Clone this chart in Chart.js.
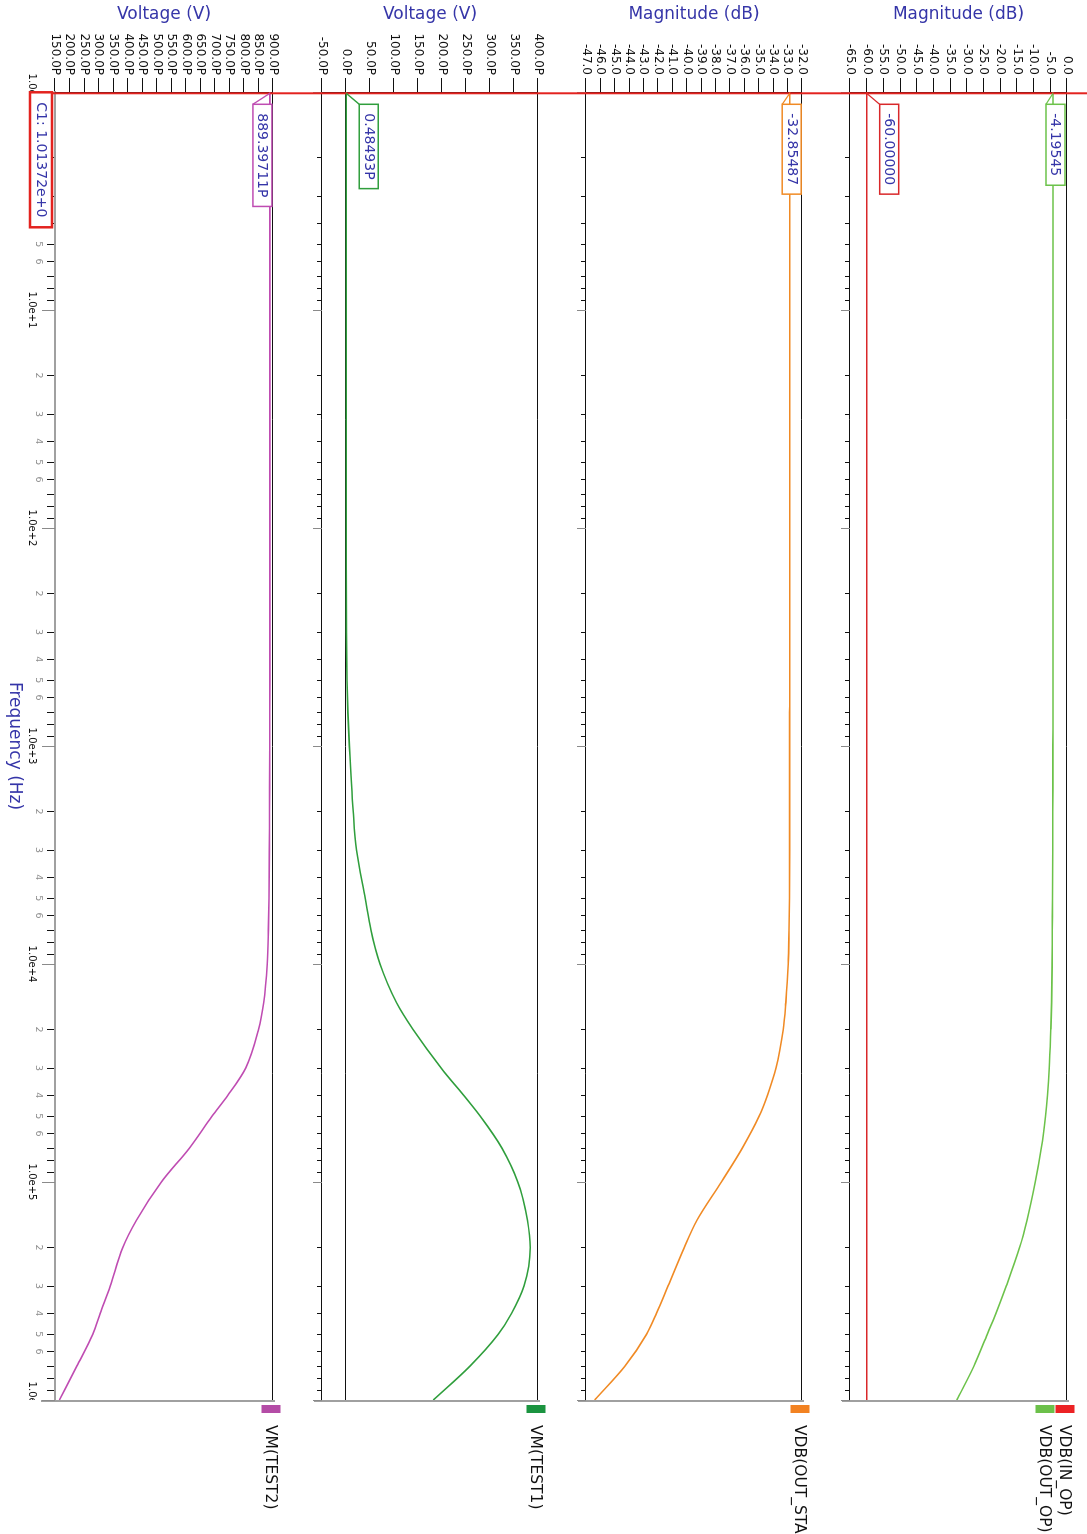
<!DOCTYPE html>
<html lang="en">
<head>
    <meta charset="UTF-8">
    <title>AC sweep - VDB / VM</title>
    <script src="https://cdn.jsdelivr.net/npm/chart.js"></script>
    <style>
        body {
            margin: 0;
            background: #fff;
            width: 1087px;
            height: 1534px;
            overflow: hidden;
            position: relative;
        }
        /* the plot is drawn landscape and turned a quarter turn clockwise */
        #sheet {
            position: absolute;
            left: 0;
            top: 0;
            width: 1534px;
            height: 1087px;
            transform-origin: 0 0;
            transform: translateX(1087px) rotate(90deg);
            background: #fff;
        }
        #sheet canvas {
            position: absolute;
            left: 0;
        }
    </style>
</head>
<body>
<div id="sheet">
    <canvas id="stripDb" width="1534" height="261" style="top:0"></canvas>
    <canvas id="stripStage" width="1534" height="264" style="top:261px"></canvas>
    <canvas id="stripTest1" width="1534" height="264" style="top:525px"></canvas>
    <canvas id="stripTest2" width="1534" height="298" style="top:789px"></canvas>
</div>

<script>
    // sweep points (Hz)
    const freqs = [1, 10, 100, 300, 500, 700, 1e3, 2e3, 3e3, 5e3, 7e3, 1e4, 1.5e4, 2e4, 3e4, 4e4, 5e4, 7e4, 1e5, 1.5e5, 2e5, 3e5, 4e5, 5e5, 7e5, 1e6];

    // series values
    const vdbInOp = [-60, -60, -60, -60, -60, -60, -60, -60, -60, -60, -60, -60, -60, -60, -60, -60, -60, -60, -60, -60, -60, -60, -60, -60, -60, -60];
    const vdbOutOp = [-4.19545, -4.195, -4.196, -4.2, -4.2, -4.21, -4.22, -4.25, -4.28, -4.33, -4.4, -4.45, -4.6, -4.85, -5.3, -5.85, -6.45, -7.7, -9.5, -12.0, -14.2, -18.2, -21.3, -23.9, -27.9, -33.0];
    const vdbOutStage = [-32.85487, -32.855, -32.855, -32.855, -32.855, -32.856, -32.857, -32.86, -32.86, -32.87, -32.9, -32.95, -33.12, -33.3, -33.8, -34.4, -34.98, -36.15, -37.6, -39.3, -40.18, -41.3, -42.1, -42.8, -44.3, -46.4];
    const vmTest1 = [0.48493, 0.485, 0.5, 0.8, 2, 4, 7, 15, 22, 40, 52, 71, 105, 140, 198, 245, 280, 325, 358, 378, 384, 371, 345, 317, 258, 182];
    const vmTest2 = [889.39711, 889.4, 889.3, 889.2, 889.1, 889, 888.8, 888, 887.5, 886, 884, 880, 868, 850, 806, 745, 690, 612, 516, 430, 383, 340, 306, 280, 225, 165];

    // axis ticks
    const dbTicksIn = [-65, -60, -55, -50, -45, -40, -35, -30, -25, -20, -15, -10, -5, 0];
    const dbTicksStage = [-47, -46, -45, -44, -43, -42, -41, -40, -39, -38, -37, -36, -35, -34, -33, -32];
    const vTicksTest1 = [-50, 0, 50, 100, 150, 200, 250, 300, 350, 400];
    const vTicksTest2 = [150, 200, 250, 300, 350, 400, 450, 500, 550, 600, 650, 700, 750, 800, 850, 900];
    const freqDecades = [1, 10, 100, 1e3, 1e4, 1e5, 1e6];
    const freqMinor = [2, 3, 4, 5, 6, 7, 8, 9];
    const minorLabeled = [2, 3, 4, 5, 6];

    // cursor C1 and its readouts
    const cursorFreq = 1.01372;
    const cursorText = 'C1: 1.01372e+0';
    const cursorValues = ['-4.19545', '-60.00000', '-32.85487', '0.48493P', '889.39711P'];

    const FONT = '"DejaVu Sans", sans-serif';
    const BLUE = '#3535a8';
    const RED = '#e3231f';
    Chart.defaults.font.family = FONT;

    const freqTicks = [];
    freqDecades.forEach((d, i) => {
        freqTicks.push(d);
        if (i < freqDecades.length - 1) freqMinor.forEach(m => freqTicks.push(d * m));
    });

    function isDecade(v) {
        const l = Math.log10(v);
        return Math.abs(l - Math.round(l)) < 1e-9;
    }
    function decadeText(v) {
        return '1.0e+' + Math.round(Math.log10(v));
    }
    function freqLabel(v) {
        if (isDecade(v)) {
            // the two end labels get clipped, they are drawn by the plugin
            if (v === freqDecades[0] || v === freqDecades[freqDecades.length - 1]) return '';
            return decadeText(v);
        }
        const m = Math.round(v / Math.pow(10, Math.floor(Math.log10(v) + 1e-9)));
        return minorLabeled.includes(m) ? String(m) : '';
    }

    // cursor, readout boxes, legend, right edge
    const decor = {
        id: 'decor',
        afterDraw(chart, args, o) {
            const {ctx, chartArea: a} = chart;
            const x = chart.scales.x, y = chart.scales.y;
            ctx.save();

            // grey edge at the end of the sweep
            ctx.strokeStyle = '#a0a0a0';
            ctx.lineWidth = 2;
            ctx.beginPath();
            ctx.moveTo(a.right + 1, a.top - 2);
            ctx.lineTo(a.right + 1, a.bottom + o.edgeExtra);
            ctx.stroke();

            // longer grey decade ticks
            ctx.strokeStyle = '#8a8a8a';
            ctx.lineWidth = 1;
            freqDecades.forEach(d => {
                const px = Math.round(x.getPixelForValue(d)) + 0.5;
                ctx.beginPath();
                ctx.moveTo(px, a.bottom);
                ctx.lineTo(px, a.bottom + o.decadeLen);
                ctx.stroke();
            });

            // clipped end labels
            if (o.endLabels) {
                const cx0 = x.getPixelForValue(cursorFreq);
                ctx.font = '10px ' + FONT;
                ctx.fillStyle = '#111';
                ctx.textAlign = 'center';
                ctx.textBaseline = 'middle';
                [[freqDecades[0], cx0], [freqDecades[freqDecades.length - 1], a.right]].forEach(([d, limit]) => {
                    ctx.save();
                    ctx.beginPath();
                    ctx.rect(0, a.bottom, limit, chart.height - a.bottom);
                    ctx.clip();
                    ctx.fillText(decadeText(d), x.getPixelForValue(d), a.bottom + 23.7);
                    ctx.restore();
                });
            }

            // legend swatches and names
            o.legend.forEach((it, i) => {
                const cy = a.top + 2 + 20 * i;
                ctx.fillStyle = it.color;
                ctx.fillRect(a.right + 5, cy - 9.5, 8, 19);
                ctx.fillStyle = '#111';
                ctx.font = '15.5px ' + FONT;
                ctx.textAlign = 'left';
                ctx.textBaseline = 'middle';
                ctx.fillText(it.name, a.right + 25, cy + 1);
            });

            // cursor line
            const cx = x.getPixelForValue(cursorFreq);
            let cursorEnd = chart.height;
            if (o.cursorBox) cursorEnd = a.bottom + 3 + 22;
            ctx.strokeStyle = RED;
            ctx.lineWidth = 2;
            ctx.beginPath();
            ctx.moveTo(cx, 0);
            ctx.lineTo(cx, cursorEnd);
            ctx.stroke();

            // readouts at the cursor
            ctx.font = '14px ' + FONT;
            o.readouts.forEach(r => {
                const ds = chart.data.datasets[r.ds];
                const py = y.getPixelForValue(ds.data[0].y);
                const w = ctx.measureText(r.text).width + 18;
                const bx = cx + 11, bb = py + r.dy, bt = bb - 19;
                ctx.strokeStyle = ds.borderColor;
                ctx.lineWidth = 1.3;
                ctx.beginPath();
                ctx.moveTo(cx, py);
                ctx.lineTo(bx, bb);
                ctx.stroke();
                ctx.fillStyle = '#fff';
                ctx.fillRect(bx, bt, w, 19);
                ctx.lineWidth = 1.5;
                ctx.strokeRect(bx, bt, w, 19);
                ctx.fillStyle = BLUE;
                ctx.textAlign = 'center';
                ctx.textBaseline = 'middle';
                ctx.fillText(r.text, bx + w / 2, bt + 10);
            });

            // cursor name box
            if (o.cursorBox) {
                const w = ctx.measureText(cursorText).width + 20;
                const bx = cx - 1, bt = a.bottom + 3;
                ctx.fillStyle = '#fff';
                ctx.fillRect(bx, bt, w, 22);
                ctx.strokeStyle = RED;
                ctx.lineWidth = 2.5;
                ctx.strokeRect(bx, bt, w, 22);
                ctx.fillStyle = BLUE;
                ctx.textAlign = 'center';
                ctx.textBaseline = 'middle';
                ctx.fillText(cursorText, bx + w / 2, bt + 11.5);
            }
            ctx.restore();
        }
    };

    function makeStrip(id, cfg) {
        const yTicks = cfg.yTicks;
        const yMax = yTicks[yTicks.length - 1];
        const bottomAxis = !!cfg.bottomAxis;
        return new Chart(document.getElementById(id), {
            type: 'line',
            data: {
                datasets: cfg.series.map(s => ({
                    data: freqs.map((f, i) => ({x: f, y: s.values[i]})),
                    borderColor: s.color,
                    borderWidth: 1.6,
                    pointRadius: 0,
                    fill: false,
                    cubicInterpolationMode: 'monotone'
                }))
            },
            options: {
                responsive: false,
                animation: false,
                events: [],
                layout: {padding: {top: cfg.padTop, right: 134, left: 0, bottom: 0}},
                scales: {
                    x: {
                        type: 'logarithmic',
                        min: freqDecades[0],
                        max: freqDecades[freqDecades.length - 1],
                        afterBuildTicks: s => { s.ticks = freqTicks.map(v => ({value: v})); },
                        afterFit: s => { s.height = cfg.xHeight; },
                        ticks: {
                            display: bottomAxis,
                            autoSkip: false,
                            maxRotation: 0,
                            minRotation: 0,
                            padding: 3,
                            callback: v => freqLabel(v),
                            font: c => (c.tick && isDecade(c.tick.value))
                                ? {size: 10, lineHeight: 2.54}
                                : {size: 9.5, lineHeight: 1.2},
                            color: c => (c.tick && isDecade(c.tick.value)) ? '#111' : '#8c8c8c'
                        },
                        grid: {
                            drawOnChartArea: false,
                            drawTicks: true,
                            tickLength: bottomAxis ? 8 : 5,
                            tickColor: c => (c.tick && isDecade(c.tick.value)) ? 'rgba(0,0,0,0)' : '#111'
                        },
                        border: {display: true, color: bottomAxis ? '#a0a0a0' : '#111', width: bottomAxis ? 2 : 1},
                        title: {
                            display: bottomAxis,
                            text: 'Frequency (Hz)',
                            color: BLUE,
                            font: {size: 17},
                            padding: {top: 4, bottom: 4}
                        }
                    },
                    y: {
                        type: 'linear',
                        min: yTicks[0],
                        max: yMax,
                        afterBuildTicks: s => { s.ticks = yTicks.map(v => ({value: v})); },
                        afterFit: s => { s.width = 92; },
                        ticks: {
                            autoSkip: false,
                            padding: 3,
                            color: '#111',
                            font: {size: 12},
                            callback: v => v.toFixed(1) + cfg.unit
                        },
                        grid: {
                            drawOnChartArea: true,
                            color: c => (c.tick && (c.tick.value === 0 || c.tick.value === yMax)) ? '#111' : 'rgba(0,0,0,0)',
                            tickColor: '#111',
                            tickLength: 14
                        },
                        border: {display: true, color: '#111'},
                        title: {
                            display: true,
                            text: cfg.title,
                            color: BLUE,
                            font: {size: 17},
                            padding: {top: 4, bottom: 4}
                        }
                    }
                },
                plugins: {
                    legend: {display: false},
                    tooltip: {enabled: false},
                    decor: {
                        legend: cfg.legend,
                        readouts: cfg.readouts,
                        edgeExtra: bottomAxis ? 14 : 8,
                        decadeLen: bottomAxis ? 13 : 9,
                        endLabels: bottomAxis,
                        cursorBox: bottomAxis
                    }
                }
            },
            plugins: [decor]
        });
    }

    makeStrip('stripDb', {
        padTop: 20, xHeight: 24, unit: '', title: 'Magnitude (dB)', yTicks: dbTicksIn,
        series: [{values: vdbOutOp, color: '#6cc24a'}, {values: vdbInOp, color: '#d9282a'}],
        legend: [{name: 'VDB(IN_OP)', color: '#ec2224'}, {name: 'VDB(OUT_OP)', color: '#6cc04a'}],
        readouts: [{ds: 0, text: cursorValues[0], dy: 7}, {ds: 1, text: cursorValues[1], dy: -13}]
    });

    makeStrip('stripStage', {
        padTop: 24, xHeight: 24, unit: '', title: 'Magnitude (dB)', yTicks: dbTicksStage,
        series: [{values: vdbOutStage, color: '#f08a24'}],
        legend: [{name: 'VDB(OUT_STAGE)', color: '#f28222'}],
        readouts: [{ds: 0, text: cursorValues[2], dy: 7.5}]
    });

    makeStrip('stripTest1', {
        padTop: 24, xHeight: 24, unit: 'P', title: 'Voltage (V)', yTicks: vTicksTest1,
        series: [{values: vmTest1, color: '#2f9e3c'}],
        legend: [{name: 'VM(TEST1)', color: '#1b9440'}],
        readouts: [{ds: 0, text: cursorValues[3], dy: -13}]
    });

    makeStrip('stripTest2', {
        padTop: 25, xHeight: 55, unit: 'P', title: 'Voltage (V)', yTicks: vTicksTest2, bottomAxis: true,
        series: [{values: vmTest2, color: '#bf4cb2'}],
        legend: [{name: 'VM(TEST2)', color: '#b44ca6'}],
        readouts: [{ds: 0, text: cursorValues[4], dy: 17}]
    });
</script>
</body>
</html>
